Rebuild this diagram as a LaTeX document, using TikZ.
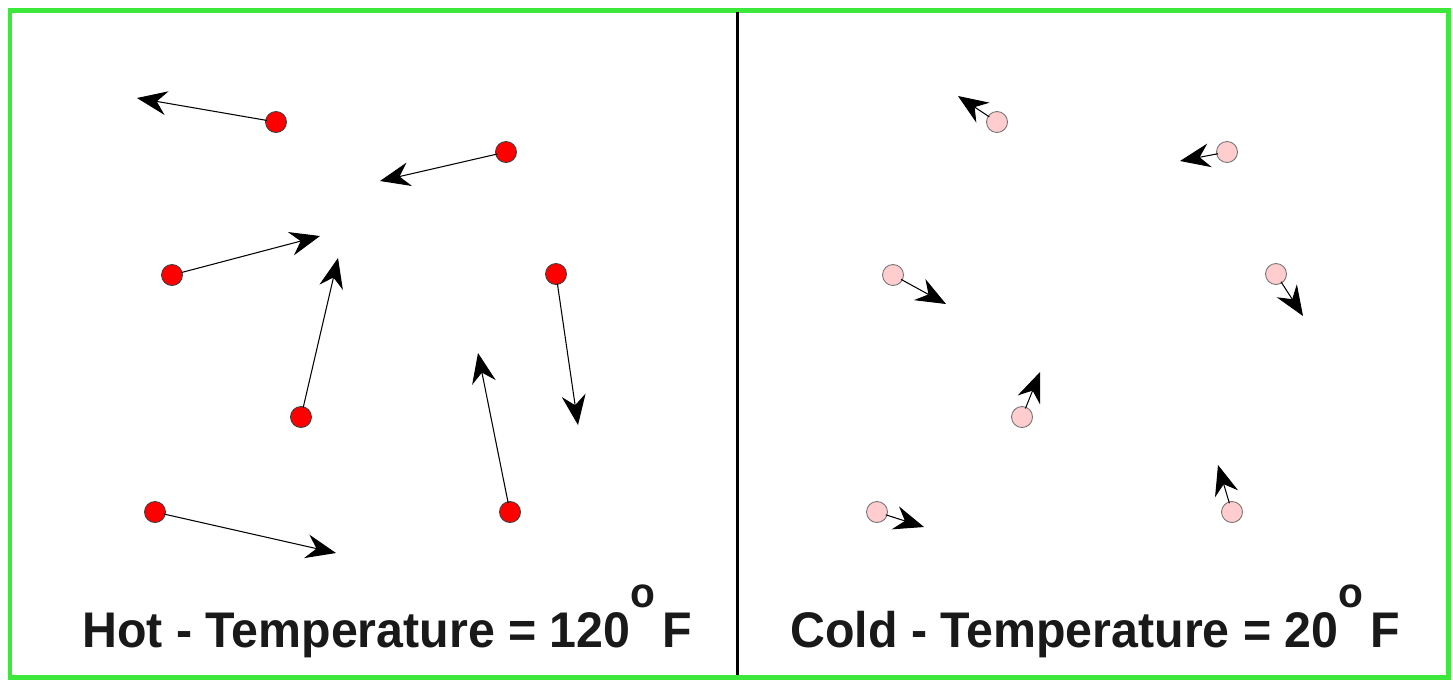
\documentclass[tikz,border=0pt]{standalone}
\usepackage{fontspec}
\setmainfont{Liberation Sans}
\usetikzlibrary{arrows.meta}
\definecolor{boxgreen}{RGB}{60,232,60}
\definecolor{hotred}{RGB}{255,0,0}
\definecolor{coldpink}{RGB}{255,205,205}
\newcommand{\degF}{\raisebox{0.8cm}{\fontsize{24}{24}\selectfont o}\hspace{0.14cm}F}
\begin{document}
\begin{tikzpicture}[x=0.02cm, y=-0.02cm]
        \tikzstyle{hot} = [circle, draw=black!75, fill=hotred, line width=0.5pt, inner sep=0, minimum size=0.42cm]
        \tikzstyle{cold} = [circle, draw=black!55, fill=coldpink, line width=0.5pt, inner sep=0, minimum size=0.42cm]
        \tikzstyle{move} = [-{Stealth[length=0.6cm, width=0.48cm, inset=0.2cm]}, black, line width=0.6pt, shorten <=-1pt]
        \tikzstyle{temp} = [anchor=base west, inner sep=0, text=black!90, font=\fontsize{28.5}{34}\selectfont\bfseries]

        \useasboundingbox (0,0) rectangle (1453,681);
        \fill[white] (0,0) rectangle (1453,681);
        \draw[boxgreen, line width=0.1cm] (10,10) rectangle (1448,677);
        \draw[black, line width=0.06cm] (737,12) -- (737,675);

        % hot side
        \foreach \i/\x/\y/\tx/\ty in {
            1/276/122/137/98,
            2/506/152/380/181,
            3/172/275/320/236,
            4/301/417/338/258,
            5/556/274/578/425,
            6/510/512/478/353,
            7/155/512/336/553
        } {
            \node[hot] (h\i) at (\x,\y) {};
            \coordinate (h\i t) at (\tx,\ty);
            \draw[move] (h\i) -- (h\i t);
        }

        % cold side
        \foreach \i/\x/\y/\tx/\ty in {
            1/997/122/958/96,
            2/1227/152/1180/161,
            3/893/275/946/304,
            4/1276/274/1303/316,
            5/1022/417/1040/372,
            6/1232/512/1218/465,
            7/877/512/924/527
        } {
            \node[cold] (c\i) at (\x,\y) {};
            \coordinate (c\i t) at (\tx,\ty);
            \draw[move] (c\i) -- (c\i t);
        }

        \node[temp] (hotlabel) at (82,647) {\scalebox{0.965}[1]{Hot - Temperature = 120\degF}};
        \node[temp] (coldlabel) at (790,647) {\scalebox{0.965}[1]{Cold - Temperature = 20\degF}};
    \end{tikzpicture}
\end{document}
